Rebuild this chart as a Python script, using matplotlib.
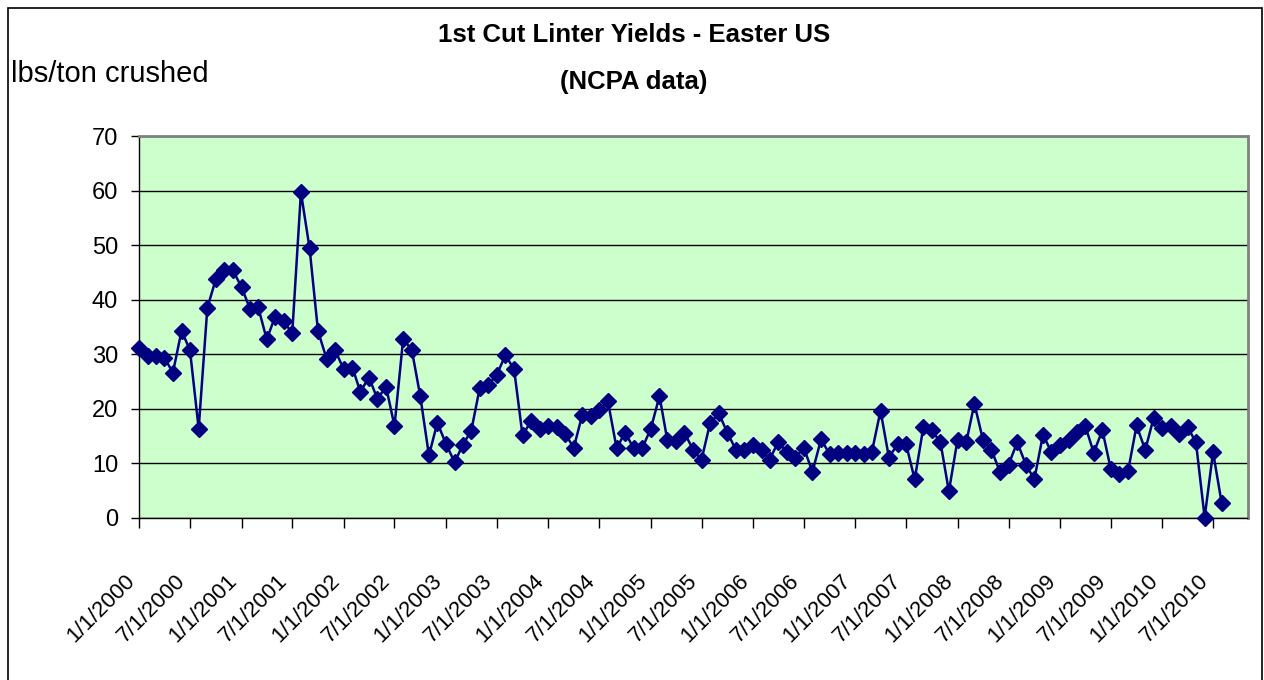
import pandas as pd
import matplotlib
matplotlib.use("Agg")
import matplotlib.pyplot as plt
from matplotlib.patches import Rectangle

# Datos mensuales (lbs/ton crushed), enero 2000 - agosto 2010
start_month = "2000-01-01"
yields = [
    31.1, 29.7, 29.7, 29.3, 26.6, 34.3, 30.7, 16.3, 38.5, 43.7, 45.4, 45.4,
    42.3, 38.2, 38.7, 32.7, 36.9, 36.0, 33.8, 59.7, 49.4, 34.2, 29.1, 30.7,
    27.2, 27.5, 23.1, 25.7, 21.8, 24.0, 16.8, 32.8, 30.7, 22.3, 11.4, 17.4,
    13.5, 10.1, 13.3, 15.9, 23.7, 24.4, 26.2, 29.8, 27.2, 15.1, 17.7, 16.3,
    16.8, 16.6, 15.4, 12.8, 18.8, 18.7, 19.7, 21.3, 12.7, 15.6, 12.7, 12.7,
    16.3, 22.3, 14.2, 14.1, 15.6, 12.4, 10.6, 17.4, 19.1, 15.6, 12.4, 12.4,
    13.3, 12.4, 10.6, 13.9, 12.0, 11.0, 12.8, 8.4, 14.4, 11.6, 11.9, 11.9,
    11.9, 11.7, 12.0, 19.6, 11.0, 13.5, 13.5, 7.0, 16.6, 16.0, 13.8, 4.8,
    14.3, 13.8, 20.9, 14.2, 12.4, 8.3, 9.7, 13.8, 9.7, 7.0, 15.2, 12.0,
    13.4, 14.2, 15.7, 16.8, 11.9, 16.0, 8.9, 8.0, 8.6, 16.9, 12.4, 18.3,
    16.5, 16.8, 15.4, 16.6, 13.8, 0.0, 12.0, 2.6,
]
tick_labels = [
    "1/1/2000", "7/1/2000", "1/1/2001", "7/1/2001", "1/1/2002", "7/1/2002",
    "1/1/2003", "7/1/2003", "1/1/2004", "7/1/2004", "1/1/2005", "7/1/2005",
    "1/1/2006", "7/1/2006", "1/1/2007", "7/1/2007", "1/1/2008", "7/1/2008",
    "1/1/2009", "7/1/2009", "1/1/2010", "7/1/2010",
]
y_ticks = [0, 10, 20, 30, 40, 50, 60, 70]

title_1 = "1st Cut Linter Yields - Easter US"
title_2 = "(NCPA data)"
y_label = "lbs/ton crushed"

months = pd.date_range(start_month, periods=len(yields), freq="MS")
tick_dates = pd.to_datetime(tick_labels, format="%m/%d/%Y")

plt.rcParams["font.family"] = ["Liberation Sans", "DejaVu Sans"]

fig = plt.figure(figsize=(12.64, 6.80), dpi=100)
ax = fig.add_axes([139 / 1264, 1 - 517.5 / 680, (1247.5 - 139) / 1264, (517.5 - 136.2) / 680])

ax.set_facecolor("#CCFFCC")
ax.plot(months, yields, color="#000080", lw=1.8, marker="D", ms=8,
        mec="#000080", mfc="#000080", clip_on=False, zorder=3)

ax.set_ylim(0, 70)
ax.set_yticks(y_ticks)
ax.set_xlim(pd.Timestamp("2000-01-01"), pd.Timestamp("2010-11-01"))
ax.set_xticks(tick_dates)
ax.set_xticklabels(tick_labels, rotation=45, ha="right", va="top")

ax.yaxis.grid(True, color="black", lw=1.0)
ax.set_axisbelow(True)

ax.tick_params(axis="y", length=6, width=1, pad=9, labelsize=17, direction="out")
ax.tick_params(axis="x", length=7, width=1, pad=31, labelsize=16, direction="out")

for side in ["top", "right"]:
    ax.spines[side].set_color("#808080")
    ax.spines[side].set_linewidth(2)
for side in ["left", "bottom"]:
    ax.spines[side].set_color("#000000")
    ax.spines[side].set_linewidth(1)

# Títulos y etiqueta del eje
fig.text(634 / 1264, 1 - 35 / 680, title_1, ha="center", va="center",
         fontsize=18.5, fontweight="bold")
fig.text(634 / 1264, 1 - 82 / 680, title_2, ha="center", va="center",
         fontsize=18.5, fontweight="bold")
fig.text(11 / 1264, 1 - 82 / 680, y_label, ha="left", va="baseline", fontsize=21)

# Borde exterior del gráfico
fig.patches.append(Rectangle((7.5 / 1264, -0.05), (1262 - 7.5) / 1264, 1.05 - 7.5 / 680,
                             transform=fig.transFigure, fill=False,
                             edgecolor="black", lw=1.2))

fig.savefig("out.png", dpi=100)
